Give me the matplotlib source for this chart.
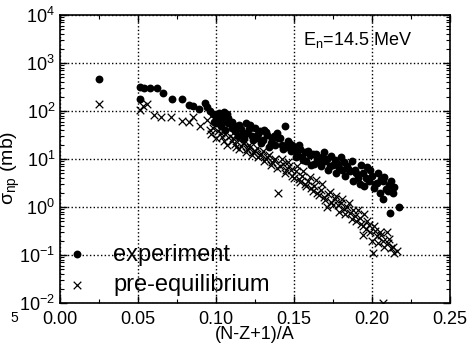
import numpy as np
import matplotlib
matplotlib.use('Agg')
import matplotlib.pyplot as plt
from matplotlib.ticker import MultipleLocator, LogLocator, NullFormatter

plt.rcParams['font.family'] = ['Liberation Sans', 'DejaVu Sans']
plt.rcParams['mathtext.fontset'] = 'custom'
plt.rcParams['mathtext.rm'] = 'Liberation Sans'
plt.rcParams['mathtext.it'] = 'Liberation Sans:italic'

# experiment (dots)
exp_x = [0.025, 0.051, 0.054, 0.058, 0.062, 0.066, 0.051, 0.072, 0.078, 0.083,
         0.085, 0.089, 0.093, 0.094, 0.096, 0.098, 0.100, 0.102, 0.105, 0.107,
         0.099, 0.101, 0.103, 0.104, 0.108, 0.110, 0.112, 0.115, 0.117, 0.119,
         0.121, 0.123, 0.125, 0.126, 0.128, 0.130, 0.131, 0.133, 0.135, 0.137,
         0.139, 0.140, 0.142, 0.144, 0.145, 0.147, 0.148, 0.150, 0.152, 0.153,
         0.155, 0.157, 0.158, 0.160, 0.162, 0.163, 0.165, 0.167, 0.168, 0.170,
         0.172, 0.174, 0.175, 0.177, 0.178, 0.180, 0.181, 0.183, 0.184, 0.186,
         0.188, 0.189, 0.191, 0.192, 0.194, 0.195, 0.197, 0.198, 0.200, 0.201,
         0.203, 0.205, 0.206, 0.208, 0.209, 0.211, 0.2135, 0.217, 0.2115, 0.207,
         0.100, 0.102, 0.104, 0.106, 0.108, 0.110, 0.112, 0.114, 0.116, 0.118,
         0.120, 0.122, 0.124, 0.127, 0.129, 0.132, 0.134, 0.136, 0.138, 0.141,
         0.143, 0.146, 0.149, 0.151, 0.154, 0.156, 0.159, 0.161, 0.164, 0.166,
         0.169, 0.171, 0.173, 0.176, 0.179, 0.182, 0.185, 0.187, 0.190, 0.193,
         0.196, 0.199, 0.202, 0.204, 0.207, 0.210, 0.212, 0.214]
exp_y = [460, 310, 300, 295, 295, 240, 180, 175, 175, 135,
         128, 110, 145, 120, 100, 85, 75, 70, 95, 88,
         60, 80, 48, 60, 55, 45, 38, 50, 35, 55,
         42, 30, 45, 28, 38, 25, 40, 32, 22, 30,
         35, 27, 20, 48, 18, 22, 15, 17, 13, 20,
         11, 14, 9, 12, 13, 8, 10, 7, 11, 9,
         6, 11.5, 7.5, 5, 8, 11, 6, 4.5, 7, 5.5,
         3.5, 6, 4, 3, 5, 2.8, 6.8, 3.5, 4.5, 2.5,
         3.2, 2.0, 3.8, 4.2, 2.4, 2.9, 1.96, 1.0, 0.75, 1.5,
         55, 90, 75, 40, 70, 60, 48, 30, 42, 28,
         35, 50, 25, 33, 22, 36, 18, 26, 20, 28,
         16, 24, 20, 11, 16, 9.5, 15, 7.5, 12.5, 8.5,
         14, 10, 7, 9.5, 6.5, 8.5, 6, 9, 5, 7.5,
         4, 5.8, 3, 5, 3.5, 2.2, 3.5, 2.6]

# pre-equilibrium (crosses)
pe_x = [0.025, 0.051, 0.053, 0.056, 0.060, 0.065, 0.071, 0.078, 0.083, 0.085,
        0.090, 0.094, 0.096, 0.098, 0.101, 0.104, 0.106, 0.109, 0.110, 0.112,
        0.114, 0.116, 0.118, 0.120, 0.122, 0.124, 0.126, 0.128, 0.130, 0.132,
        0.134, 0.136, 0.138, 0.140, 0.141, 0.143, 0.145, 0.147, 0.149, 0.151,
        0.153, 0.155, 0.157, 0.159, 0.161, 0.163, 0.165, 0.167, 0.169, 0.171,
        0.172, 0.174, 0.176, 0.178, 0.180, 0.182, 0.184, 0.186, 0.189, 0.188,
        0.190, 0.192, 0.194, 0.194, 0.196, 0.197, 0.199, 0.2006, 0.201, 0.203,
        0.205, 0.207, 0.2096, 0.211, 0.2135, 0.216, 0.207,
        0.097, 0.100, 0.103, 0.105, 0.107, 0.111, 0.113, 0.115, 0.117, 0.119,
        0.121, 0.123, 0.125, 0.127, 0.129, 0.131, 0.133, 0.135, 0.137, 0.139,
        0.142, 0.144, 0.146, 0.148, 0.150, 0.152, 0.154, 0.156, 0.158, 0.160,
        0.162, 0.164, 0.166, 0.168, 0.170, 0.173, 0.175, 0.177, 0.179, 0.181,
        0.183, 0.185, 0.187, 0.191, 0.193, 0.195, 0.198, 0.200, 0.202, 0.204,
        0.206, 0.208, 0.210, 0.212, 0.214]
pe_y = [140, 105, 126, 140, 83, 75, 75, 61, 59, 75,
        49, 65, 40, 45, 38, 29, 33, 30, 24, 21,
        26, 19, 22, 16, 18, 14, 17, 12, 15, 10,
        12, 8.5, 10, 1.96, 7, 8, 6, 7, 4.5, 5.5,
        3.8, 4.5, 3, 3.5, 2.5, 2.8, 2.0, 2.3, 1.6, 1.0,
        1.9, 1.3, 1.5, 1.1, 1.2, 0.9, 1.0, 0.75, 0.65, 0.85,
        0.5, 0.6, 0.4, 0.26, 0.35, 0.5, 0.3, 0.11, 0.4, 0.25,
        0.3, 0.2, 0.3, 0.22, 0.15, 0.12, 0.01,
        33, 28, 35, 24, 20, 27, 18, 16, 22, 14,
        20, 12, 15, 11, 13, 9, 11, 7.5, 9.5, 6.5,
        10, 5, 8.5, 6, 4, 7, 3.3, 5.5, 2.7, 4.2,
        2.2, 3.6, 1.8, 3, 1.4, 2.1, 1.1, 1.7, 0.8, 1.5,
        0.7, 1.2, 0.55, 0.85, 0.45, 0.7, 0.42, 0.2, 0.32, 0.18,
        0.26, 0.15, 0.18, 0.14, 0.11]

fig = plt.figure(figsize=(4.69, 3.46), dpi=100)
ax = fig.add_axes([60/469, 43/346, 390/469, 288/346])

ax.scatter(exp_x, exp_y, s=32, c='k', marker='o', linewidths=0, label='experiment', zorder=3)
ax.scatter(pe_x, pe_y, s=30, c='k', marker='x', linewidths=0.9, label='pre-equilibrium', zorder=3)

ax.set_yscale('log')
ax.set_xlim(0, 0.25)
ax.set_ylim(1e-2, 1e4)
ax.xaxis.set_major_locator(MultipleLocator(0.05))
ax.xaxis.set_minor_locator(MultipleLocator(0.025))
ax.yaxis.set_major_locator(LogLocator(base=10, numticks=10))
ax.yaxis.set_minor_locator(LogLocator(base=10, subs=np.arange(2, 10), numticks=10))
ax.yaxis.set_minor_formatter(NullFormatter())
ax.set_xticklabels(['%.2f' % v for v in ax.get_xticks()])
ax.tick_params(which='both', direction='in', top=True, right=True, labelsize=13)
ax.tick_params(which='major', length=5, width=1)
ax.tick_params(which='minor', length=3, width=0.8)
ax.tick_params(axis='x', which='major', pad=6)
ax.grid(True, which='major', linestyle=':', color='k', linewidth=1)
for s in ax.spines.values():
    s.set_linewidth(1.2)

ax.set_xlabel('(N-Z+1)/A', fontsize=13, labelpad=-2)
ax.set_ylabel('σ$_{\\mathrm{np}}$ (mb)', fontsize=14)
ax.yaxis.set_label_coords(-0.097, 0.47)
ax.text(0.623, 0.896, 'E$_{\\mathrm{n}}$=14.5 MeV', transform=ax.transAxes, fontsize=13)

ax.legend(loc='lower left', frameon=False, fontsize=17, handletextpad=1.1,
          labelspacing=0.35, borderaxespad=0.1, borderpad=0.2, handlelength=0.85,
          bbox_to_anchor=(0.0, 0.0))

fig.text(10/469, 1 - 318/346, '5', fontsize=10, va='center')

fig.savefig('out.png', dpi=100)
